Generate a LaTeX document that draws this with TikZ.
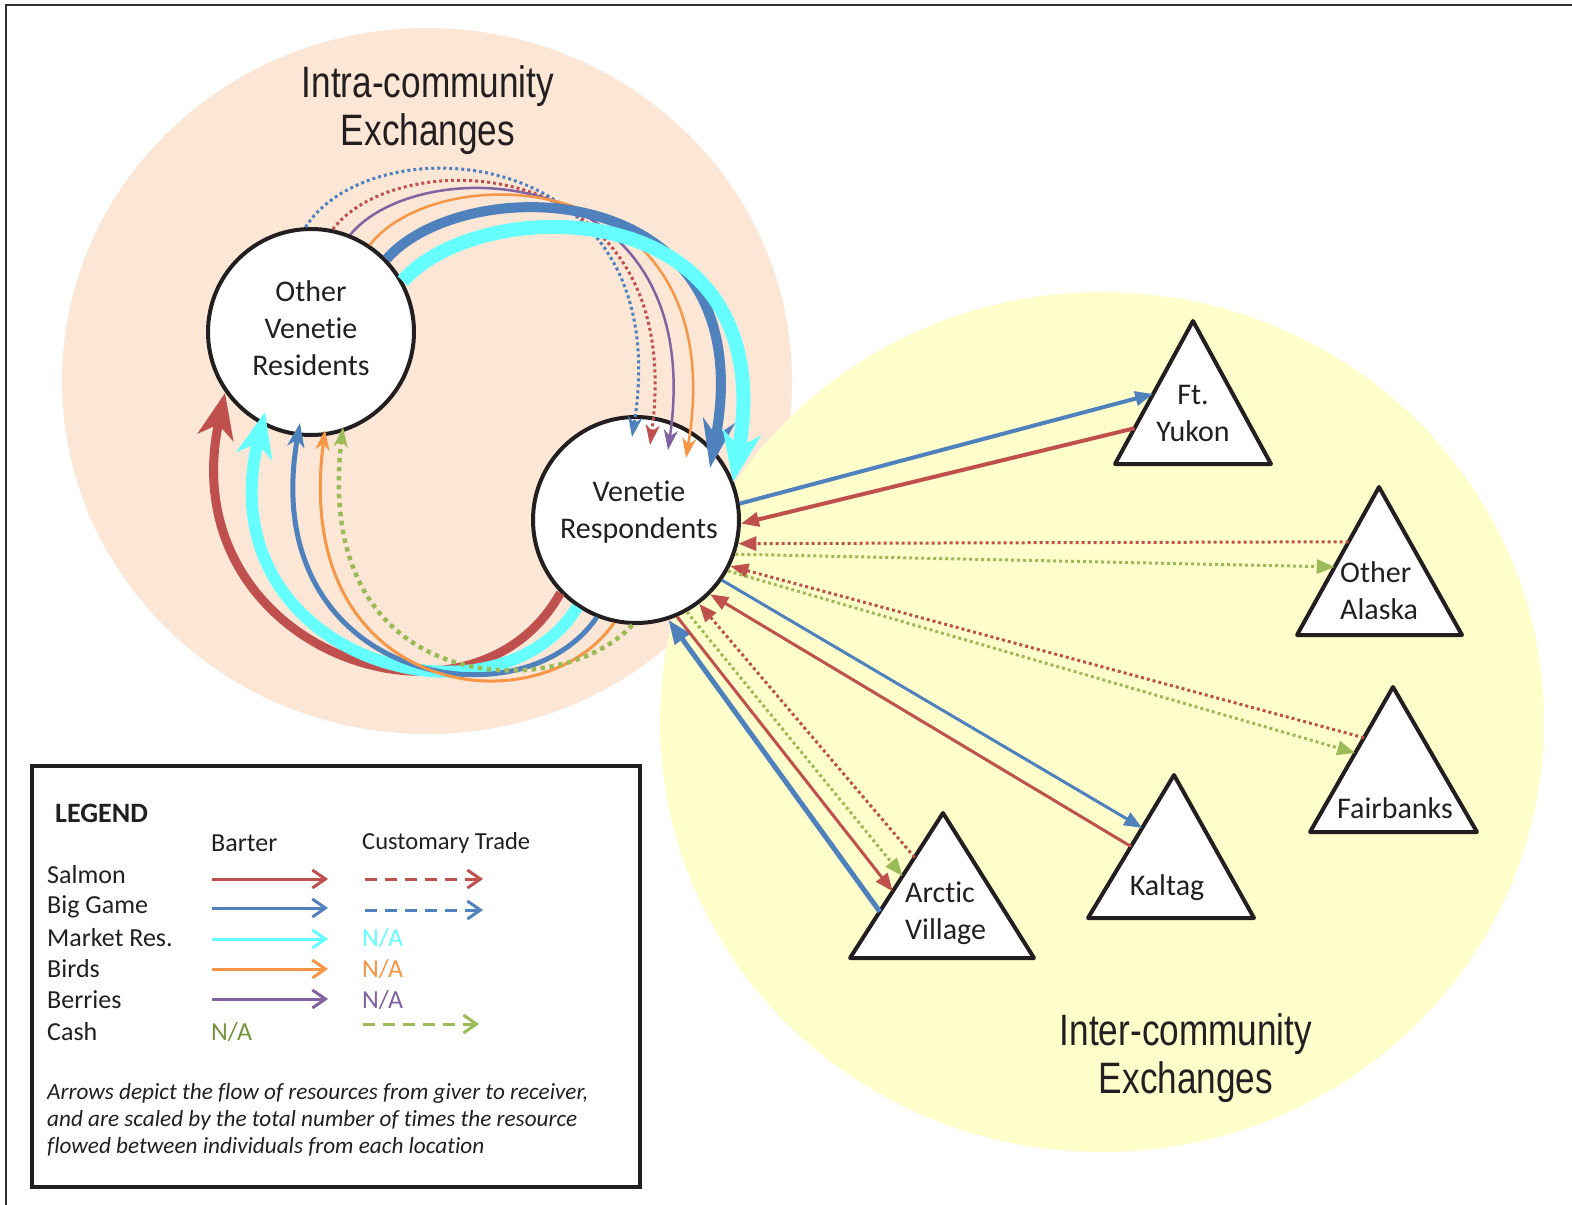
\documentclass[tikz,border=0pt]{standalone}
\usepackage{fontspec}
\setmainfont[Ligatures={NoCommon,NoContextual},Contextuals=NoAlternate]{Carlito}
\newfontfamily\titlefont[FakeStretch=0.8]{Liberation Sans}
\usetikzlibrary{arrows.meta,calc}
\definecolor{cRed}{HTML}{C0504D}
\definecolor{cBlue}{HTML}{4F81BD}
\definecolor{cCyan}{HTML}{66FFFF}
\definecolor{cOrange}{HTML}{F79646}
\definecolor{cPurple}{HTML}{8064A2}
\definecolor{cGreen}{HTML}{9BBB59}
\definecolor{cGreenTxt}{HTML}{77933C}
\definecolor{cPeach}{HTML}{FCE6D6}
\definecolor{cYellow}{HTML}{FFFFCC}
\definecolor{txtcol}{HTML}{231F20}
\begin{document}
\begin{tikzpicture}[x=1pt,y=-1pt,
  every node/.style={text=txtcol},
  circnode/.style={circle, draw=txtcol, line width=4pt, fill=white, minimum size=206pt, inner sep=0pt},
  lbl/.style={font=\fontsize{30}{37}\selectfont, align=center, inner sep=0pt},
  lbll/.style={font=\fontsize{30}{37}\selectfont, align=left, anchor=west, inner sep=0pt},
  ttl/.style={font=\titlefont\fontsize{44}{47.5}\selectfont, align=center, inner sep=0pt},
  tri/.style={fill=white, draw=txtcol, line width=4pt, line join=round},
  lg/.style={font=\fontsize{26}{30}\selectfont, anchor=west, inner sep=0pt},
  capt/.style={font=\itshape\fontsize{23.2}{27}\selectfont, anchor=west, inner sep=0pt},
  dots/.style={dash pattern=on 3pt off 3pt},
  dotsB/.style={dash pattern=on 4.5pt off 4.5pt},
  dsh/.style={dash pattern=on 12pt off 8pt},
  hS/.style={-{Stealth[length=20pt,width=14pt,inset=6pt]}},
  hM/.style={-{Stealth[length=24pt,width=17pt,inset=7pt]}},
  hBL/.style={-{Stealth[length=48pt,width=32pt,inset=15pt]}},
  hCL/.style={-{Stealth[length=50pt,width=38pt,inset=15pt]}},
  hRL/.style={-{Stealth[length=45pt,width=36pt,inset=13pt]}},
  hT/.style={-{Triangle[length=18pt,width=14pt]}},
  hTL/.style={-{Triangle[length=24pt,width=18pt]}},
  hLeg/.style={-{Straight Barb[length=13pt,width=18pt]}}
]
\useasboundingbox (0,0) rectangle (1572,1205);
\fill[white] (0,0) rectangle (1572,1205);
% frame
\draw[line width=2pt, black!80] (6,1205) -- (6,5) -- (1572,5);
% background regions
\fill[cPeach] (427,381) ellipse [x radius=365pt, y radius=353pt];
\fill[cYellow] (1102,722) ellipse [x radius=442pt, y radius=430pt];
% titles
\node[ttl] (T1) at (428,110) {Intra-community\\Exchanges};
\node[ttl] (T2) at (1186,1058) {Inter-community\\Exchanges};
% circles
\node[circnode] (OVR) at (311,332) {};
\node[lbl] (OVRt) at (311,328) {Other\\Venetie\\Residents};
\node[circnode] (VR) at (636,520) {};
\node[lbl] (VRt) at (639,512) {Venetie\\Respondents};
% triangles
\coordinate (FYa) at (1193,321); \coordinate (FYl) at (1115,464); \coordinate (FYr) at (1271,464);
\coordinate (OAa) at (1379,487); \coordinate (OAl) at (1297,635); \coordinate (OAr) at (1462,635);
\coordinate (FBa) at (1393,687); \coordinate (FBl) at (1310,832); \coordinate (FBr) at (1477,832);
\coordinate (KTa) at (1174,775); \coordinate (KTl) at (1088,918); \coordinate (KTr) at (1254,918);
\coordinate (AVa) at (943,813);  \coordinate (AVl) at (850,958);  \coordinate (AVr) at (1034,958);
\filldraw[tri] (FYa) -- (FYl) -- (FYr) -- cycle;
\filldraw[tri] (OAa) -- (OAl) -- (OAr) -- cycle;
\filldraw[tri] (FBa) -- (FBl) -- (FBr) -- cycle;
\filldraw[tri] (KTa) -- (KTl) -- (KTr) -- cycle;
\filldraw[tri] (AVa) -- (AVl) -- (AVr) -- cycle;
\node[lbl] (FY) at (1193,413) {Ft.\\Yukon};
\node[lbll] (OA) at (1340,591) {Other\\Alaska};
\node[lbl] (FB) at (1395,808) {Fairbanks};
\node[lbl] (KT) at (1167,888) {Kaltag};
\node[lbll] (AV) at (905,913) {Arctic\\Village};
% straight connectors
\draw[cBlue, line width=4pt, hT] (VR.9) -- ($(FYa)!0.51!(FYl)$);
\draw[cRed, line width=4pt, hT] ($(FYa)!0.75!(FYl)$) -- (VR.-2);
\draw[cRed, line width=3pt, dots, hT] ($(OAa)!0.37!(OAl)$) -- (VR.-13);
\draw[cGreen, line width=3pt, dots, hT] (VR.-19) -- ($(OAa)!0.54!(OAl)$);
\draw[cRed, line width=3pt, dots, hT] ($(FBa)!0.35!(FBl)$) -- (VR.-26);
\draw[cGreen, line width=3pt, dots, hT] (VR.-29) -- ($(FBa)!0.455!(FBl)$);
\draw[cBlue, line width=3pt, hT] (VR.-35) -- ($(KTa)!0.37!(KTl)$);
\draw[cRed, line width=3pt, hT] ($(KTa)!0.5!(KTl)$) -- (VR.-45);
\draw[cBlue, line width=5pt, hTL] ($(AVa)!0.68!(AVl)$) -- (VR.-72);
\draw[cRed, line width=3pt, hT] (VR.-67) -- ($(AVa)!0.54!(AVl)$);
\draw[cGreen, line width=3pt, dots, hT] (VR.-61) -- ($(AVa)!0.435!(AVl)$);
\draw[cRed, line width=3pt, dots, hT] ($(AVa)!0.306!(AVl)$) -- (VR.-53);
% top arcs (Other Venetie Residents -> Venetie Respondents)
\draw[cBlue, line width=3pt, dots, hS] (OVR.93) .. controls (372,122) and (680,140) .. ($(VR.center)+(-4,-83)$);
\draw[cRed, line width=3pt, dots, hS] (OVR.78) .. controls (398,142) and (690,150) .. ($(VR.center)+(14,-75)$);
\draw[cPurple, line width=2.5pt, hS] (OVR.68) .. controls (420,150) and (710,160) .. ($(VR.center)+(32,-70)$);
\draw[cOrange, line width=2.5pt, hS] (OVR.56) .. controls (440,155) and (735,165) .. ($(VR.center)+(50,-62)$);
\draw[cBlue, line width=10pt, hBL] (OVR.44) .. controls (465,170) and (765,175) .. ($(VR.center)+(74,-52)$);
\draw[cCyan, line width=14pt, hCL] (OVR.29) .. controls (480,192) and (785,190) .. ($(VR.center)+(97,-38)$);
% bottom arcs (Venetie Respondents -> Other Venetie Residents)
\draw[cRed, line width=9pt, hRL] (VR.224) .. controls (470,755) and (170,650) .. ($(OVR.center)+(-86,61)$);
\draw[cCyan, line width=12pt, hRL] (VR.236) .. controls (495,740) and (205,660) .. ($(OVR.center)+(-46,80)$);
\draw[cBlue, line width=5pt, hM] (VR.248) .. controls (520,730) and (255,680) .. ($(OVR.center)+(-11,91)$);
\draw[cOrange, line width=3pt, hS] (VR.258) .. controls (540,730) and (290,700) .. ($(OVR.center)+(14,98)$);
\draw[cGreen, line width=4.5pt, dotsB, hS] (VR.268) .. controls (560,705) and (310,700) .. ($(OVR.center)+(32,95)$);
% legend
\draw[line width=4pt, txtcol] (32,766) rectangle (640,1187);
\node[lg, font=\bfseries\fontsize{28}{32}\selectfont] (LT) at (55,813) {LEGEND};
\node[lg] (LB) at (211,843) {Barter};
\node[lg, font=\fontsize{24.5}{30}\selectfont] (LC) at (362,843) {Customary Trade};
\node[lg] (L1) at (47,875) {Salmon};
\node[lg] (L2) at (47,907) {Big Game};
\node[lg] (L3) at (47,938) {Market Res.};
\node[lg] (L4) at (47,969) {Birds};
\node[lg] (L5) at (47,1000) {Berries};
\node[lg] (L6) at (47,1032) {Cash};
\draw[cRed, line width=3pt, hLeg] (212,879) -- (328,879);
\draw[cBlue, line width=3pt, hLeg] (212,908) -- (328,908);
\draw[cCyan, line width=3pt, hLeg] (212,939) -- (328,939);
\draw[cOrange, line width=3pt, hLeg] (212,969) -- (328,969);
\draw[cPurple, line width=3pt, hLeg] (212,999) -- (328,999);
\draw[cRed, line width=3pt, dsh, hLeg] (365,879) -- (483,879);
\draw[cBlue, line width=3pt, dsh, hLeg] (365,910) -- (483,910);
\draw[cGreen, line width=3pt, dsh, hLeg] (363,1024) -- (479,1024);
\node[lg, text=cCyan] (N1) at (362,938) {N/A};
\node[lg, text=cOrange] (N2) at (362,969) {N/A};
\node[lg, text=cPurple] (N3) at (362,1000) {N/A};
\node[lg, text=cGreenTxt] (N4) at (211,1032) {N/A};
\node[capt] (C1) at (47,1093) {Arrows depict the flow of resources from giver to receiver,};
\node[capt] (C2) at (47,1120) {and are scaled by the total number of times the resource};
\node[capt] (C3) at (47,1147) {flowed between individuals from each location};
\end{tikzpicture}
\end{document}
